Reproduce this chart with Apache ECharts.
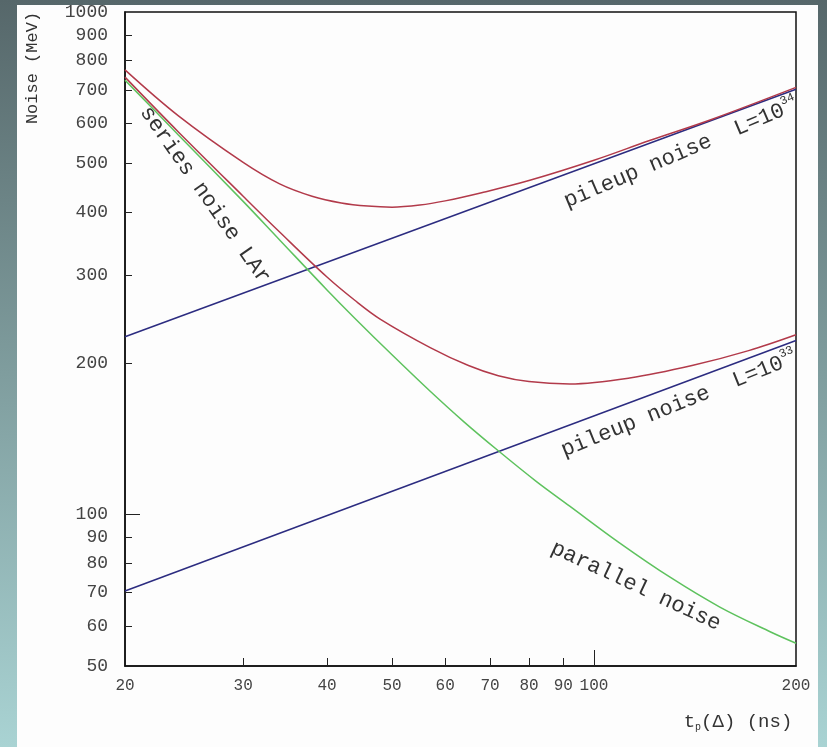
<!DOCTYPE html>
<html>
<head>
<meta charset="utf-8">
<script src="https://cdn.jsdelivr.net/npm/echarts@6/dist/echarts.min.js"></script>
<style>
html, body { margin: 0; padding: 0; }
#chart { width: 827px; height: 747px; }
</style>
</head>
<body>
<div id="chart"></div>
<script>
// Shaping time t_p (ns) and noise contributions (MeV), log-log
const xTickValues = [20, 30, 40, 50, 60, 70, 80, 90, 100, 200];
const yTickValues = [50, 60, 70, 80, 90, 100, 200, 300, 400, 500, 600, 700, 800, 900, 1000];

// series noise of the LAr readout
const seriesT = [20, 24, 30, 34, 40, 44, 50, 57, 64, 72, 82, 92, 109, 130, 154, 183, 200];
const seriesNoise = [732, 570, 420, 352, 280, 246, 208, 176, 153, 134, 116.5, 104, 88, 75, 65.5, 58.5, 55.5];

// pileup noise at L = 10^34 and L = 10^33
const pileupT = [20, 200];
const pileupHigh = [226, 702];
const pileupLow = [70.5, 222];

// total noise for both luminosities
const totalHighT = [20, 24, 30, 34, 38, 42, 46, 50, 55, 60, 68, 80, 100, 121, 150, 200];
const totalHigh = [767, 622, 502, 455, 430, 417, 411, 409, 413, 421, 437, 462, 507, 555, 612, 708];
const totalLowT = [20, 24, 30, 34, 40, 44, 48, 57, 65, 72, 80, 92, 113, 140, 170, 200];
const totalLow = [742, 578, 430, 365, 297, 267, 245, 215, 198, 189, 184, 182, 187, 198, 212, 228];

const zip = (xs, ys) => xs.map((x, i) => [x, ys[i]]);

const MONO = "'Liberation Mono', 'DejaVu Sans Mono', monospace";
const TXT = '#333';
const RED = '#b23a4a';
const BLUE = '#2c2c80';
const GREEN = '#5ec25e';

const chart = echarts.init(document.getElementById('chart'), null, { renderer: 'canvas' });

function line(name, data, color, smooth) {
  return {
    name, type: 'line', data, smooth: smooth ? 0.35 : false,
    showSymbol: false, symbol: 'none', silent: true,
    lineStyle: { color, width: 1.5 },
    xAxisIndex: 0, yAxisIndex: 0, z: 3
  };
}

const supRich = { sup: { fontSize: 12, fontFamily: MONO, verticalAlign: 'top', lineHeight: 14 } };

chart.setOption({
  animation: false,
  backgroundColor: {
    type: 'linear', x: 0, y: 0, x2: 0, y2: 1,
    colorStops: [
      { offset: 0, color: '#56676a' },
      { offset: 0.5, color: '#7f9d9e' },
      { offset: 1, color: '#a9d3d3' }
    ]
  },
  graphic: [
    { type: 'rect', z: -10, silent: true,
      shape: { x: 17, y: 5, width: 801, height: 742 },
      style: { fill: '#fdfdfd' } },
    { type: 'text', x: 32, y: 68, rotation: Math.PI / 2, silent: true,
      style: { text: 'Noise (MeV)', font: '17px ' + MONO, fill: TXT, align: 'center', verticalAlign: 'middle' } },
    { type: 'text', x: 738, y: 722, silent: true,
      style: { text: 't{sub|p}(Δ) (ns)', font: '19px ' + MONO, fill: TXT, align: 'center', verticalAlign: 'middle',
        rich: { sub: { fontSize: 10, fontFamily: MONO, padding: [10, 0, 0, 0] } } } },
    { type: 'text', x: 205, y: 195, rotation: -55 * Math.PI / 180, silent: true,
      style: { text: 'series noise LAr', font: '22px ' + MONO, fill: TXT, align: 'center', verticalAlign: 'middle' } },
    { type: 'text', x: 681, y: 153, rotation: 23 * Math.PI / 180, silent: true,
      style: { text: 'pileup noise  L=10{sup|34}', font: '22px ' + MONO, fill: TXT, align: 'center', verticalAlign: 'middle',
        lineHeight: 28, rich: supRich } },
    { type: 'text', x: 679, y: 404, rotation: 22 * Math.PI / 180, silent: true,
      style: { text: 'pileup noise  L=10{sup|33}', font: '22px ' + MONO, fill: TXT, align: 'center', verticalAlign: 'middle',
        lineHeight: 28, rich: supRich } },
    { type: 'text', x: 636, y: 586, rotation: -25 * Math.PI / 180, silent: true,
      style: { text: 'parallel noise', font: '22px ' + MONO, fill: TXT, align: 'center', verticalAlign: 'middle' } }
  ],
  grid: {
    left: 125, top: 12, right: 31, bottom: 81,
    show: true, borderColor: '#111', borderWidth: 1.5, backgroundColor: 'transparent'
  },
  xAxis: [
    {
      type: 'log', logBase: 10, min: 20, max: 200, position: 'bottom',
      axisLine: { show: true, lineStyle: { color: '#111', width: 1.5 } },
      axisTick: { show: true, inside: true, length: 8, customValues: [30, 40, 50, 60, 70, 80, 90],
        lineStyle: { color: '#222', width: 1 } },
      axisLabel: { show: true, margin: 12, customValues: xTickValues, color: '#444',
        fontFamily: MONO, fontSize: 16, formatter: v => String(Math.round(v)) },
      splitLine: { show: false }, minorTick: { show: false }, minorSplitLine: { show: false }
    },
    {
      type: 'log', logBase: 10, min: 20, max: 200, position: 'bottom', gridIndex: 0,
      axisLine: { show: false },
      axisTick: { show: true, inside: true, length: 16, customValues: [100],
        lineStyle: { color: '#222', width: 1 } },
      axisLabel: { show: false }, splitLine: { show: false }
    }
  ],
  yAxis: [
    {
      type: 'log', logBase: 10, min: 50, max: 1000, position: 'left',
      axisLine: { show: true, lineStyle: { color: '#111', width: 1.5 } },
      axisTick: { show: true, inside: true, length: 7,
        customValues: [60, 70, 80, 90, 200, 300, 400, 500, 600, 700, 800, 900],
        lineStyle: { color: '#222', width: 1 } },
      axisLabel: { show: true, margin: 17, customValues: yTickValues, color: '#444',
        fontFamily: MONO, fontSize: 18, formatter: v => String(Math.round(v)) },
      splitLine: { show: false }, minorTick: { show: false }, minorSplitLine: { show: false }
    },
    {
      type: 'log', logBase: 10, min: 50, max: 1000, position: 'left', gridIndex: 0,
      axisLine: { show: false },
      axisTick: { show: true, inside: true, length: 15, customValues: [100],
        lineStyle: { color: '#222', width: 1 } },
      axisLabel: { show: false }, splitLine: { show: false }
    }
  ],
  series: [
    line('pileup L=1e34', zip(pileupT, pileupHigh), BLUE, false),
    line('pileup L=1e33', zip(pileupT, pileupLow), BLUE, false),
    line('series noise LAr', zip(seriesT, seriesNoise), GREEN, true),
    line('total L=1e33', zip(totalLowT, totalLow), RED, true),
    line('total L=1e34', zip(totalHighT, totalHigh), RED, true)
  ]
});
</script>
</body>
</html>
